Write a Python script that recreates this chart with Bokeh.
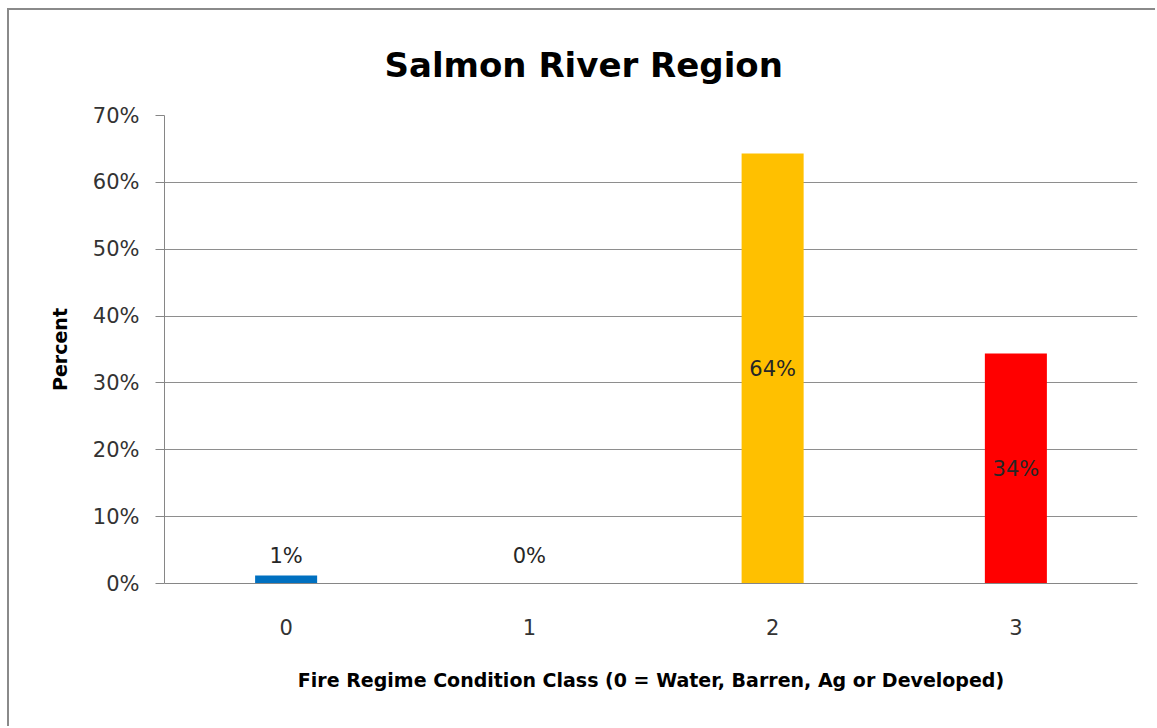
from bokeh.plotting import figure
from bokeh.models import ColumnDataSource, FactorRange, Range1d, PrintfTickFormatter, FixedTicker, Title
from bokeh.core.properties import value
from bokeh.embed import file_html
from bokeh.resources import INLINE

# ---- data ----
classes = ["0", "1", "2", "3"]
percents = [1.2, 0.0, 64.3, 34.4]
bar_colors = ["#0070C0", "#FFC000", "#FFC000", "#FF0000"]
y_ticks = [0, 10, 20, 30, 40, 50, 60, 70]
title_text = "Salmon River Region"
x_label = "Fire Regime Condition Class (0 = Water, Barren, Ag or Developed)"
y_label = "Percent"

FONT = "DejaVu Sans"

labels = [f"{round(v)}%" for v in percents]
inside = [v > 10 for v in percents]

src = ColumnDataSource(dict(x=classes, top=percents, color=bar_colors))
src_in = ColumnDataSource(dict(
    x=[c for c, i in zip(classes, inside) if i],
    y=[v / 2 for v, i in zip(percents, inside) if i],
    t=[t for t, i in zip(labels, inside) if i]))
src_out = ColumnDataSource(dict(
    x=[c for c, i in zip(classes, inside) if not i],
    y=[0 for v, i in zip(percents, inside) if not i],
    t=[t for t, i in zip(labels, inside) if not i]))

p = figure(width=1148, height=718, x_range=FactorRange(*classes, range_padding=0),
           y_range=Range1d(0, 70), output_backend="svg", toolbar_location=None,
           min_border_left=155, min_border_right=20, min_border_top=105, min_border_bottom=145)
p.x_range.range_padding = 0
p.styles = {"margin-left": "7px", "margin-top": "8px",
            "border-left": "2px solid #8a8a8a", "border-top": "2px solid #8a8a8a"}

p.vbar(x="x", top="top", bottom=0, width=0.255, color="color", source=src, line_color=None)

p.text(x="x", y="y", text="t", source=src_in, text_align="center", text_baseline="middle",
       text_font=value(FONT), text_font_size="21px", text_color="#262626")
p.text(x="x", y="y", text="t", source=src_out, text_align="center", text_baseline="middle",
       y_offset=-28, text_font=value(FONT), text_font_size="21px", text_color="#262626")

p.outline_line_color = None
p.background_fill_color = "white"
p.border_fill_color = "white"

# grid
p.xgrid.grid_line_color = None
p.ygrid.grid_line_color = "#8e8e8e"
p.ygrid.grid_line_width = 1
p.yaxis.ticker = FixedTicker(ticks=y_ticks)
p.yaxis.formatter = PrintfTickFormatter(format="%d%%")

# y axis
p.yaxis.axis_line_color = "#868686"
p.yaxis.major_tick_line_color = "#868686"
p.yaxis.major_tick_out = 9
p.yaxis.major_tick_in = 0
p.yaxis.minor_tick_line_color = None
p.yaxis.major_label_standoff = 16
p.yaxis.major_label_text_font = FONT
p.yaxis.major_label_text_font_size = "21px"
p.yaxis.major_label_text_color = "#333333"
p.yaxis.axis_label = y_label
p.yaxis.axis_label_text_font = FONT
p.yaxis.axis_label_text_font_style = "bold"
p.yaxis.axis_label_text_font_size = "19px"
p.yaxis.axis_label_text_color = "#000000"
p.yaxis.axis_label_standoff = 19

# x axis
p.xaxis.axis_line_color = "#868686"
p.xaxis.major_tick_line_color = None
p.xaxis.major_tick_out = 0
p.xaxis.major_tick_in = 0
p.xaxis.minor_tick_line_color = None
p.xaxis.major_label_standoff = 35
p.xaxis.major_label_text_font = FONT
p.xaxis.major_label_text_font_size = "21px"
p.xaxis.major_label_text_color = "#333333"
p.xaxis.axis_label = x_label
p.xaxis.axis_label_text_font = FONT
p.xaxis.axis_label_text_font_style = "bold"
p.xaxis.axis_label_text_font_size = "19px"
p.xaxis.axis_label_text_color = "#000000"
p.xaxis.axis_label_standoff = 31

t = Title(text=title_text, align="left", text_font=FONT, text_font_size="34px",
          text_font_style="bold", text_color="#000000", offset=220, standoff=61)
p.add_layout(t, "above")

open("out.html", "w").write(file_html(p, INLINE))
